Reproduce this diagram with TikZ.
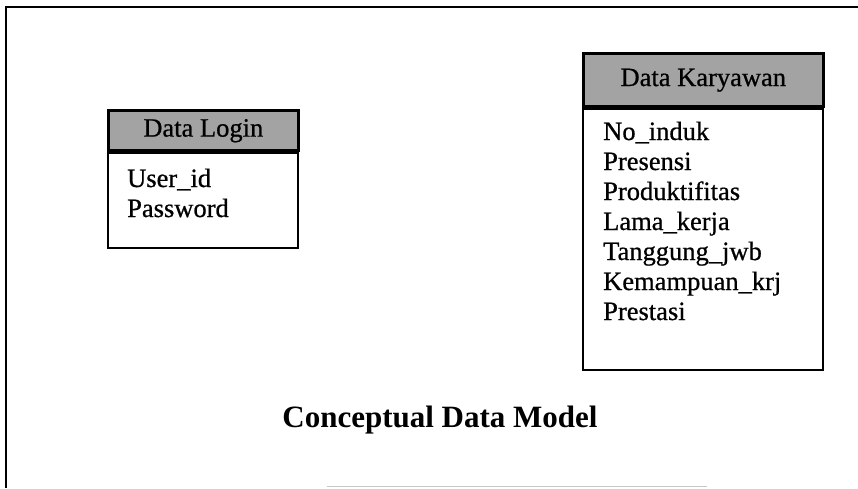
\documentclass[tikz,border=0pt]{standalone}
\usepackage{fontspec}
\setmainfont{Liberation Serif}
% print-like heavier serif for the entity texts
\newfontfamily\entityfont[FakeBold=0.7]{Liberation Serif}
\begin{document}
\begin{tikzpicture}[x=1pt,y=-1pt,
  frame/.style={line width=2pt},
  entity/.style={draw, line width=2.2pt, inner sep=0pt},
  head/.style={entity, line width=2.6pt, fill=black!36, font=\entityfont\fontsize{26.5}{30}\selectfont},
  attr/.style={anchor=base west, inner sep=0pt, font=\entityfont\fontsize{26.5}{30}\selectfont},
  title/.style={font=\bfseries\fontsize{31}{36}\selectfont}]
\useasboundingbox (0,0) rectangle (858,488);

% outer frame (open to the right and bottom)
\draw[frame] (6,488) -- (6,7) -- (858,7);
\draw[black!22, line width=1pt] (327,486.5) -- (707,486.5);

% entity: Data Login
\node[entity, minimum width=190pt, minimum height=95pt, anchor=north west] (loginBody) at (107,152) {};
\node[head, minimum width=190pt, minimum height=40pt, anchor=south west] (loginHead) at (107,152) {Data Login};
\node[attr] (login1) at (127,187) {User\_id};
\node[attr] (login2) at (127,217) {Password};

% entity: Data Karyawan
\node[entity, minimum width=240pt, minimum height=261pt, anchor=north west] (karBody) at (582,108) {};
\node[head, minimum width=240pt, minimum height=53pt, anchor=south west] (karHead) at (582,108) {Data Karyawan};
\foreach \t [count=\i from 0] in {No\_induk, Presensi, Produktifitas, Lama\_kerja, Tanggung\_jwb, Kemampuan\_krj, Prestasi}
  \node[attr] (kar\i) at (603,{140+30*\i}) {\t};

% caption
\node[title] (caption) at (440,420) {Conceptual Data Model};
\end{tikzpicture}
\end{document}
